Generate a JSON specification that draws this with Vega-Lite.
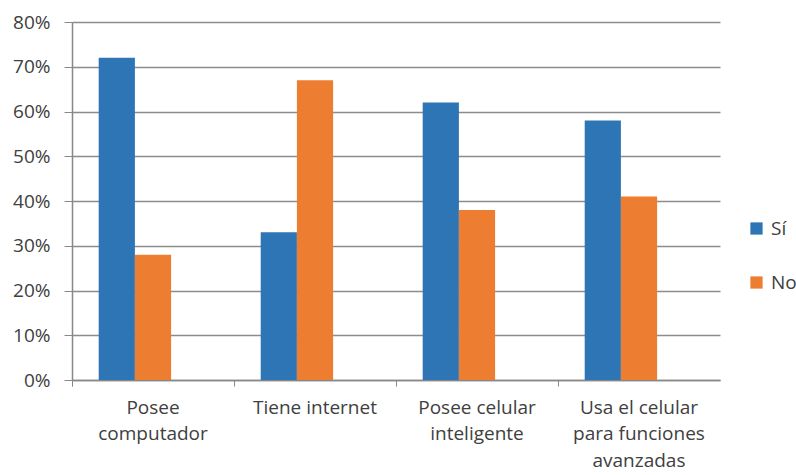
{
  "$schema": "https://vega.github.io/schema/vega-lite/v6.json",
  "width": 648,
  "height": 358,
  "autosize": {"type": "none"},
  "padding": {"left": 72, "top": 22, "right": 76, "bottom": 95},
  "background": "white",
  "config": {
    "view": {"stroke": null},
    "font": "Open Sans"
  },
  "data": {
    "values": [
      {"categoria": "Posee computador", "respuesta": "Sí", "valor": 0.72},
      {"categoria": "Posee computador", "respuesta": "No", "valor": 0.28},
      {"categoria": "Tiene internet", "respuesta": "Sí", "valor": 0.33},
      {"categoria": "Tiene internet", "respuesta": "No", "valor": 0.67},
      {"categoria": "Posee celular inteligente", "respuesta": "Sí", "valor": 0.62},
      {"categoria": "Posee celular inteligente", "respuesta": "No", "valor": 0.38},
      {"categoria": "Usa el celular para funciones avanzadas", "respuesta": "Sí", "valor": 0.58},
      {"categoria": "Usa el celular para funciones avanzadas", "respuesta": "No", "valor": 0.41}
    ]
  },
  "mark": {"type": "bar"},
  "encoding": {
    "x": {
      "field": "categoria",
      "type": "nominal",
      "sort": null,
      "scale": {"paddingInner": 0, "paddingOuter": 0},
      "axis": {
        "title": null,
        "labelAngle": 0,
        "labelFontSize": 19,
        "labelColor": "#404040",
        "labelPadding": 12,
        "labelLineHeight": 26.5,
        "labelExpr": "datum.label == 'Posee computador' ? ['Posee', 'computador'] : datum.label == 'Posee celular inteligente' ? ['Posee celular', 'inteligente'] : datum.label == 'Usa el celular para funciones avanzadas' ? ['Usa el celular', 'para funciones', 'avanzadas'] : datum.label",
        "bandPosition": 0,
        "tickExtra": true,
        "tickSize": 6,
        "tickColor": "#888888",
        "domainColor": "#888888",
        "domainWidth": 1.5,
        "grid": false
      }
    },
    "xOffset": {
      "field": "respuesta",
      "type": "nominal",
      "scale": {"domain": ["Sí", "No", "_"], "paddingInner": 0, "paddingOuter": 0.7376, "align": 0.5}
    },
    "y": {
      "field": "valor",
      "type": "quantitative",
      "scale": {"domain": [0, 0.8]},
      "axis": {
        "title": null,
        "format": ".0%",
        "values": [0, 0.1, 0.2, 0.3, 0.4, 0.5, 0.6, 0.7, 0.8],
        "labelFontSize": 19,
        "labelColor": "#404040",
        "labelPadding": 14,
        "tickSize": 8,
        "tickColor": "#888888",
        "domainColor": "#888888",
        "domainWidth": 1.5,
        "gridColor": "#8c8c8c",
        "gridWidth": 1.5
      }
    },
    "color": {
      "field": "respuesta",
      "type": "nominal",
      "sort": ["Sí", "No"],
      "scale": {"domain": ["Sí", "No"], "range": ["#2E75B6", "#ED7D31"]},
      "legend": {
        "title": null,
        "orient": "none",
        "legendX": 675,
        "legendY": 197,
        "symbolType": "square",
        "symbolSize": 150,
        "symbolStrokeWidth": 0,
        "labelFontSize": 19,
        "labelColor": "#404040",
        "rowPadding": 34,
        "labelOffset": 5
      }
    }
  }
}
